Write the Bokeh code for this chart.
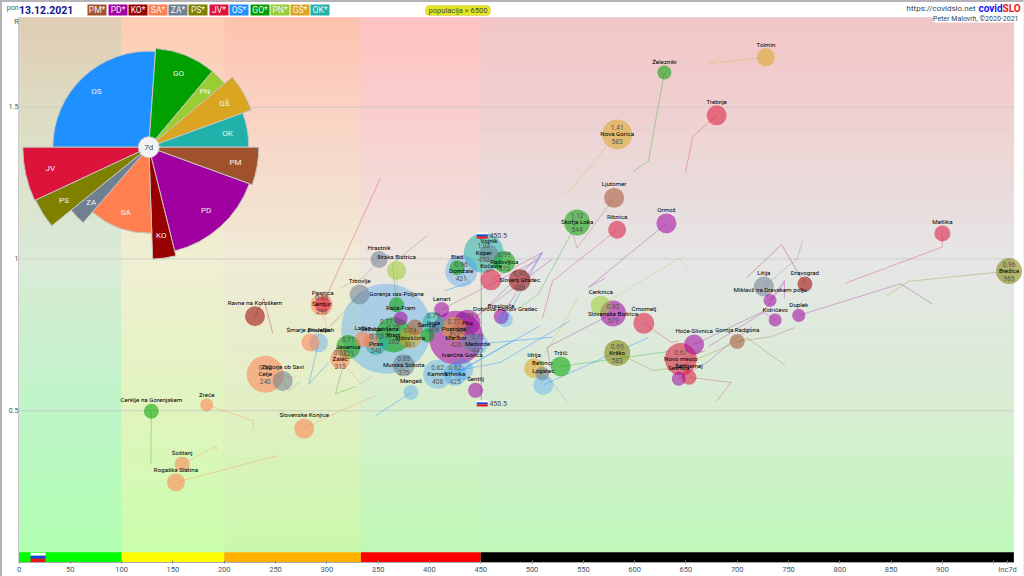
from bokeh.plotting import figure
from bokeh.embed import file_html
from bokeh.resources import INLINE
from bokeh.models import ColumnDataSource, FixedTicker, Label, BoxAnnotation, Range1d
from bokeh.core.properties import value
import math

date_text = "13.12.2021"
parties = ["PM", "PD", "KO", "SA", "ZA", "PS", "JV", "OS", "GO", "PN", "GŠ", "OK"]
party_colors = ["#a0522d", "#a000a0", "#990000", "#ff7f50", "#708090", "#808000",
                "#dc143c", "#1e90ff", "#00a000", "#9acd32", "#daa520", "#20b2aa"]
color_of = dict(zip(parties, party_colors))

# pie: clockwise from 9 o'clock
pie_parties = ["OS", "GO", "PN", "GŠ", "OK", "PM", "PD", "KO", "SA", "ZA", "PS", "JV"]
pie_degrees = [94, 36, 10, 20, 20, 20, 56, 12, 43, 10, 14, 25]
pie_radius = [96, 99, 99, 109, 100, 110, 107, 112, 86, 100, 125, 126]
pie_center = (126.5, 1.368)

x_ticks = list(range(0, 951, 50))
y_ticks = [0.5, 1, 1.5]
zone_edges = [0, 100, 200, 333.3, 450, 969.6]
zone_colors = ["#00ff00", "#ffff00", "#ffb000", "#ff0000", "#000000"]
national_inc = 450.5

names = ["Tolmin", "Železniki", "Trebnje", "Nova Gorica", "Ljutomer", "Škofja Loka", "Ribnica", "Ormož",
         "Metlika", "Brežice", "Litija", "Dravograd", "Miklavž na Dravskem polju", "Kidričevo", "Duplek",
         "Cerknica", "Slovenska Bistrica", "Črnomelj", "Hoče-Slivnica", "Gornja Radgona", "Krško", "Novo mesto",
         "Šentjernej", "Sevnica", "Tržič", "Idrija", "Beltinci", "Logatec", "Ravne na Koroškem", "Šentjur",
         "Pesnica", "Šmarje pri Jelšah", "Prevalje", "Celje", "Zagorje ob Savi", "Zreče", "Cerklje na Gorenjskem",
         "Slovenske Konjice", "Šoštanj", "Rogaška Slatina", "Žalec", "Jesenice", "Trbovlje", "Hrastnik",
         "Ilirska Bistrica", "Gorenja vas-Poljane", "Rače-Fram", "Ljubljana", "Kranj", "Ajdovščina", "Lenart",
         "Izola", "Piran", "Laško", "Sežana", "Šenčur", "", "Murska Sobota", "Mengeš", "Kamnik", "Vrhnika",
         "Šentilj", "Maribor", "Postojna", "Ptuj", "Ivančna Gorica", "", "Medvode", "Koper", "Vojnik",
         "Radovljica", "Kočevje", "Slovenj Gradec", "Domžale", "Bled", "Braslovče", "Dobrova-Polhov Gradec"]
inc7d = [728, 629, 680, 583, 580, 544, 583, 631, 900, 965, 726, 766, 732, 737, 760, 567, 579, 609, 658, 700,
         583, 645, 653, 643, 528, 502, 510, 511, 230, 295, 296, 284, 292, 240, 257, 183, 129, 278, 159, 153,
         313, 321, 332, 351, 368, 368, 372, 358, 365, 381, 412, 404, 348, 335, 343, 398, 386, 375, 382, 408,
         425, 445, 426, 424, 437, 432, 440, 447, 453, 458, 473, 460, 488, 431, 427, 470, 474]
r_values = [1.664, 1.614, 1.473, 1.41, 1.201, 1.12, 1.096, 1.117, 1.084, 0.96, 0.909, 0.917, 0.863, 0.799, 0.814, 0.846,
            0.82, 0.788, 0.718, 0.728, 0.69, 0.67, 0.61, 0.605, 0.646, 0.64, 0.622, 0.585, 0.811, 0.85, 0.85, 0.725,
            0.724, 0.62, 0.598, 0.519, 0.498, 0.441, 0.324, 0.264, 0.67, 0.71, 0.883, 0.998, 0.962, 0.849, 0.804, 0.77,
            0.75, 0.74, 0.833, 0.79, 0.72, 0.735, 0.73, 0.748, 0.774, 0.65, 0.56, 0.62, 0.62, 0.567, 0.74, 0.77, 0.79,
            0.636, 0.726, 0.72, 1.02, 1.018, 0.99, 0.931, 0.93, 0.96, 0.971, 0.81, 0.80]
population = [11.8, 7.1, 14.6, 32.8, 14.6, 24.6, 11.8, 14.6, 9.3, 24.6, 14.6, 8.2, 6.2, 6.2, 6.2, 14.6, 24.6, 16,
              14.6, 8.2, 24.6, 37.3, 8.2, 7.1, 14.6, 14.6, 7.1, 14.6, 14.6, 17.6, 9.3, 11.8, 13.1, 49.9, 14.6, 6.2,
              8.2, 14.6, 8.2, 11.8, 14.6, 21, 14.6, 10.5, 13.1, 8.2, 7.1, 295, 45, 17.6, 8.2, 17.6, 17.6, 9.3, 9.3,
              7.1, 9.3, 17.6, 8.2, 30.6, 19.3, 8.2, 106, 21, 24.6, 17.6, 11.8, 16, 58, 11.8, 17.6, 16, 17.6, 37.3,
              8.2, 8.2, 8.2]
party = ["GŠ", "GO", "JV", "GŠ", "PM", "GO", "JV", "PD", "JV", "PS", "ZA", "KO", "PD", "PD", "PD", "PN", "PD", "JV",
         "PD", "PM", "PS", "JV", "JV", "PD", "GO", "GŠ", "ZA", "OS", "KO", "SA", "JV", "SA", "OS", "SA", "ZA", "SA",
         "GO", "SA", "SA", "SA", "SA", "GO", "ZA", "ZA", "PN", "GO", "PD", "OS", "GO", "GŠ", "PD", "OK", "OK", "SA",
         "SA", "GO", "PM", "ZA", "OS", "OS", "OS", "PD", "PD", "GŠ", "PD", "OS", "ZA", "OS", "OK", "ZA", "GO", "JV",
         "KO", "OS", "GO", "PD", "OS"]
detailed = {"Nova Gorica", "Škofja Loka", "Brežice", "Slovenska Bistrica", "Krško", "Novo mesto", "Šentjur", "Celje",
            "Žalec", "Jesenice", "Ljubljana", "Kranj", "Ajdovščina", "Izola", "Piran", "Murska Sobota", "Kamnik",
            "Vrhnika", "Maribor", "Postojna", "Ptuj", "Medvode", "Koper", "Radovljica", "Slovenj Gradec", "Domžale"}

trail_points = {
    "Tolmin": [(674, 1.644), (682.8, 1.667)],
    "Železniki": [(613.5, 1.322), (598.9, 1.289)],
    "Trebnje": [(656.7, 1.403), (649.6, 1.284)],
    "Nova Gorica": [(534.3, 1.216)],
    "Ljutomer": [(544, 1.035), (540.1, 1.081)],
    "Škofja Loka": [(506.6, 0.886), (488.8, 0.841)],
    "Ribnica": [(520, 0.927), (510.2, 0.804)],
    "Ormož": [(555.4, 0.907), (571.6, 0.937)],
    "Metlika": [(899.8, 1.039), (805.5, 0.92)],
    "Brežice": [(866.7, 0.926), (846.2, 0.879)],
    "Litija": [(758.5, 1.001), (763.9, 1.061)],
    "Dravograd": [(743.2, 1.047), (709.8, 0.94)],
    "Miklavž na Dravskem polju": [(746, 0.929), (746, 0.87)],
    "Kidričevo": [(725.6, 0.824), (672, 0.711)],
    "Duplek": [(859.2, 0.918), (890, 0.852)],
    "Cerknica": [(643.1, 1.001), (651.6, 0.973)],
    "Slovenska Bistrica": [(521, 0.72), (514.8, 0.709), (518, 0.643)],
    "Črnomelj": [(636, 0.725), (642.8, 0.729)],
    "Hoče-Slivnica": [(725.6, 0.827), (746, 0.922)],
    "Gornja Radgona": [(732.3, 0.743), (756.8, 0.775)],
    "Krško": [(618.1, 0.632), (641.5, 0.643), (709.8, 0.74), (747, 0.648)],
    "Novo mesto": [(669, 0.698)],
    "Šentjernej": [(694.2, 0.593), (679.8, 0.531)],
    "Sevnica": [(670.8, 0.659), (693.5, 0.725), (714.6, 0.777)],
    "Tržič": [(635, 0.696)],
    "Logatec": [(613.6, 0.741)],
    "Idrija": [(515, 0.698), (545.3, 0.874)],
    "Beltinci": [(518, 0.599), (534.3, 0.53)],
    "Ravne na Koroškem": [(238.6, 0.869), (247.4, 0.755)],
    "Šentjur": [(299.7, 0.774)],
    "Pesnica": [(352.3, 1.266)],
    "Šmarje pri Jelšah": [(313.4, 0.808)],
    "Prevalje": [(282.5, 0.588), (302, 0.659)],
    "Celje": [(269.5, 0.61)],
    "Zagorje ob Savi": [(263, 0.566), (274.4, 0.597)],
    "Zreče": [(228.3, 0.467), (228.3, 0.442)],
    "Cerklje na Gorenjskem": [(128.5, 0.324)],
    "Slovenske Konjice": [(313.4, 0.5), (347.5, 0.549)],
    "Šoštanj": [(192.2, 0.383), (192.2, 0.368)],
    "Rogaška Slatina": [(250.7, 0.351), (250.7, 0.344)],
    "Žalec": [(320.2, 0.639), (332.8, 0.589), (345.5, 0.615)],
    "Jesenice": [(308.5, 0.556), (328, 0.579)],
    "Trbovlje": [(303.6, 0.78)],
    "Hrastnik": [(335.8, 0.939), (313.4, 0.906)],
    "Ilirska Bistrica": [(369.6, 0.873)],
    "Gorenja vas-Poljane": [(364, 0.985), (398.2, 1.077)],
    "Medvode": [(520, 0.742)],
    "Kamnik": [(469.3, 0.659), (537.5, 0.797)],
    "Vrhnika": [(481.9, 0.731)],
    "Ivančna Gorica": [(508.2, 0.78)],
    "Mengeš": [(347.5, 0.483)],
    "Domžale": [(439, 0.922), (415, 0.895)],
    "Kočevje": [(510, 1.021)],
    "Maribor": [(510, 1.021)],
    "Dobrova-Polhov Gradec": [(510, 1.021)],
    "Braslovče": [(510, 1.021)],
    "Ptuj": [(520, 1.0)],
    "Lenart": [(505, 0.995)],
}

# background tint knots at R = top, 1.5, 1, .5, 0 for each incidence zone
bg_knots = [
    [(224, 205, 180), (222, 220, 195), (218, 235, 215), (190, 245, 200), (175, 255, 175)],
    [(255, 205, 180), (250, 215, 195), (240, 240, 210), (225, 245, 190), (200, 255, 170)],
    [(255, 195, 175), (250, 210, 195), (240, 235, 215), (225, 240, 195), (200, 250, 170)],
    [(255, 195, 195), (250, 205, 205), (240, 230, 225), (215, 240, 205), (190, 250, 180)],
    [(243, 198, 198), (240, 208, 208), (230, 230, 230), (215, 238, 210), (190, 250, 185)],
]
y_top = 1.795
bg_levels = [y_top, 1.5, 1.0, 0.5, 0.0]


def hx(px):
    return (px - 18.5) / 1.026


def hy(py):
    return (562 - py) / 303.6


p = figure(width=1021, height=572, frame_width=1005, frame_height=560,
           output_backend="svg", toolbar_location=None,
           x_range=Range1d(hx(18), hx(1023)), y_range=Range1d(0, hy(2)),
           min_border_left=16, min_border_right=0, min_border_top=0, min_border_bottom=12,
           background_fill_color="white", border_fill_color="white", outline_line_color=None)
p.styles = {"position": "absolute", "left": "0px", "top": "0px", "box-sizing": "content-box",
            "border-left": "2px solid #b4b4b8", "border-top": "2px solid #b4b4b8",
            "border-right": "1px solid #f0f0f0", "border-bottom": "2px solid #f0f0f0"}
p.grid.visible = False


def blend(knots, y):
    for i in range(len(bg_levels) - 1):
        if y >= bg_levels[i + 1]:
            t = (y - bg_levels[i + 1]) / (bg_levels[i] - bg_levels[i + 1])
            a, b = knots[i + 1], knots[i]
            return "#%02x%02x%02x" % tuple(int(a[k] + (b[k] - a[k]) * t) for k in range(3))
    return "#%02x%02x%02x" % knots[-1]


rows = 72
bl, br, bb, bt, bc = [], [], [], [], []
for z in range(5):
    for i in range(rows):
        y0 = y_top * i / rows
        y1 = y_top * (i + 1) / rows
        bl.append(zone_edges[z]); br.append(zone_edges[z + 1]); bb.append(y0); bt.append(y1)
        bc.append(blend(bg_knots[z], (y0 + y1) / 2))
p.quad(left=bl, right=br, bottom=bb, top=bt, fill_color=bc, line_color=bc, line_width=0.6)

p.segment(x0=[0] * 3, x1=[zone_edges[-1]] * 3, y0=y_ticks, y1=y_ticks, line_color="#c8c8c8", line_alpha=0.8, line_width=1)

# zone strip
p.quad(left=zone_edges[:-1], right=zone_edges[1:], bottom=[0] * 5, top=[0.034] * 5, fill_color=zone_colors, line_color=None)


def flag(xc, yc, w, h):
    third = h / 3
    p.quad(left=[xc - w / 2] * 3, right=[xc + w / 2] * 3,
           bottom=[yc + third / 2, yc - third / 2, yc - 1.5 * third],
           top=[yc + 1.5 * third, yc + third / 2, yc - third / 2],
           fill_color=["#ffffff", "#1a3ce0", "#f01010"], line_color=None)


# trails
txs, tys, tcs, tas = [], [], [], []
for n, x, y, pt in zip(names, inc7d, r_values, party):
    if n in trail_points:
        pts = trail_points[n]
        txs.append([x] + [a for a, _ in pts])
        tys.append([y] + [b for _, b in pts])
        tcs.append(color_of[pt])
        tas.append(0.42 if pt == "OS" else 0.3)
p.multi_line(xs=txs, ys=tys, line_color=tcs, line_alpha=tas, line_width=1)

# national marker
p.segment(x0=[national_inc], x1=[national_inc], y0=[0.524], y1=[1.077], line_color="#aaaaaa", line_width=1)

# bubbles, largest at the back
order = sorted(range(len(names)), key=lambda i: -population[i])
src = ColumnDataSource(dict(
    x=[inc7d[i] for i in order],
    y=[r_values[i] for i in order],
    size=[2 * 2.62 * math.sqrt(population[i]) for i in order],
    color=[color_of[party[i]] for i in order],
    alpha=[0.3 if party[i] == "OS" else 0.55 for i in order],
))
p.scatter("x", "y", size="size", fill_color="color", fill_alpha="alpha", line_color=None, source=src)

lab_x, lab_y, lab_t, lab_dy = [], [], [], []
val_x, val_y, val_t, val_dy = [], [], [], []
for i, n in enumerate(names):
    if not n:
        continue
    rad = 2.62 * math.sqrt(population[i])
    lab_x.append(inc7d[i]); lab_y.append(r_values[i]); lab_t.append(n)
    if n in detailed:
        lab_dy.append(0)
        val_x += [inc7d[i], inc7d[i]]
        val_y += [r_values[i], r_values[i]]
        val_t += [f"{r_values[i]:.2f}", str(inc7d[i])]
        val_dy += [-7, 7]
    else:
        lab_dy.append(-(rad + 3.5))
p.text(x=val_x, y=val_y, text=val_t, y_offset=val_dy, text_align="center", text_baseline="middle",
       text_font=value("Roboto"), text_font_size="6.6px", text_color="#555555")
p.text(x=lab_x, y=lab_y, text=lab_t, y_offset=lab_dy, text_align="center", text_baseline="middle",
       text_font=value("Roboto"), text_font_size="6.2px", text_color="#000000")

flag(national_inc + 1, 1.077, 10.7, 0.02)
flag(national_inc + 1, 0.524, 10.7, 0.02)
flag(18.5, 0.017, 14.6, 0.03)
p.text(x=[national_inc + 8] * 2, y=[1.077, 0.524], text=[str(national_inc)] * 2, text_baseline="middle",
       text_font=value("Roboto"), text_font_size="7px", text_color="#444444")

# pie
angle = math.pi
starts, ends, lx, ly = [], [], [], []
for deg, rad in zip(pie_degrees, pie_radius):
    end = angle
    start = angle - math.radians(deg)
    starts.append(start); ends.append(end)
    mid = (start + end) / 2
    lx.append(0.8 * rad * math.cos(mid)); ly.append(-0.8 * rad * math.sin(mid))
    angle = start
n_p = len(pie_parties)
p.wedge(x=[pie_center[0]] * n_p, y=[pie_center[1]] * n_p, radius=pie_radius, radius_units="screen",
        start_angle=starts, end_angle=ends, fill_color=[color_of[t] for t in pie_parties],
        line_color="#c4c4c4", line_width=1)
p.text(x=[pie_center[0]] * n_p, y=[pie_center[1]] * n_p, text=pie_parties, x_offset=lx, y_offset=ly,
       text_align="center", text_baseline="middle", text_font=value("Roboto"), text_font_size="8px", text_color="#f2f2f2")
p.scatter([pie_center[0]], [pie_center[1]], size=21, fill_color="#f3f3f3", line_color="#c8c8c8", line_width=1)
p.text(x=[pie_center[0]], y=[pie_center[1]], text=["7d"], text_align="center", text_baseline="middle",
       text_font=value("Roboto"), text_font_size="8px", text_color="#444444")

# axes
inc_label_tick = 963.5
xa = p.xaxis[0]
xa.ticker = FixedTicker(ticks=x_ticks + [inc_label_tick])
xa.major_label_overrides = {950: "", inc_label_tick: "Inc7d"}
xa.bounds = (0, zone_edges[-1])
xa.axis_line_color = "#aaaaaa"
xa.major_tick_line_color = "#888888"
xa.major_tick_in = 2
xa.major_tick_out = 1
xa.minor_tick_line_color = None
xa.major_label_standoff = 1
xa.major_label_text_font = "Roboto"
xa.major_label_text_font_size = "7.5px"
xa.major_label_text_color = "#445566"

pon_tick, r_tick = hy(7), hy(21)
ya = p.yaxis[0]
ya.ticker = FixedTicker(ticks=y_ticks + [r_tick, pon_tick])
ya.major_label_overrides = {0.5: "0.5", 1: "1", 1.5: "1.5", r_tick: "R", pon_tick: "pon"}
ya.bounds = (0, y_top)
ya.axis_line_color = "#cccccc"
ya.major_tick_line_color = None
ya.major_tick_in = 0
ya.major_tick_out = 0
ya.minor_tick_line_color = None
ya.major_label_standoff = 0
ya.major_label_text_font = "Roboto"
ya.major_label_text_font_size = "7px"
ya.major_label_text_color = "#445566"


def lab(px, py, text, size, color, style="normal", align="left", font="Roboto"):
    p.add_layout(Label(x=hx(px), y=hy(py), text=text, text_font_size=size, text_color=color, text_font_style=style,
                       text_align=align, text_baseline="middle", text_font=font))


def box(x0, x1, y0, y1, color, line=None, radius=0):
    p.add_layout(BoxAnnotation(left=hx(x0), right=hx(x1), top=hy(y0), bottom=hy(y1), fill_color=color, fill_alpha=1,
                               line_color=line, border_radius=radius))


lab(18.5, 9, date_text, "10.5px", "#14148c", "bold")

legend_left = [87, 108, 128, 148, 168, 188, 209, 229, 250, 270, 290, 310]
for name, color, x0 in zip(parties, party_colors, legend_left):
    box(x0, x0 + 19, 4, 15, color)
    lab(x0 + 9.5, 9.5, name + "*", "8.5px", "#f4f4f4", "normal", "center")

box(425, 490, 5, 15, "#e6e620", "#a8a860", 4)
lab(457.5, 10, "populacija > 6500", "7.5px", "#444444", "normal", "center")

lab(975, 8, "https://covidslo.net", "8px", "#334455", "normal", "right")
lab(978, 8, "covid", "10px", "#1414f0", "bold")
lab(1002, 8, "SLO", "10px", "#f01414", "bold")
box(933, 1019, 14, 22, "#ffffff")
lab(1018, 18, "Peter Malovrh, ©2020-2021", "7px", "#334455", "normal", "right")

open("out.html", "w").write(file_html(p, INLINE))
